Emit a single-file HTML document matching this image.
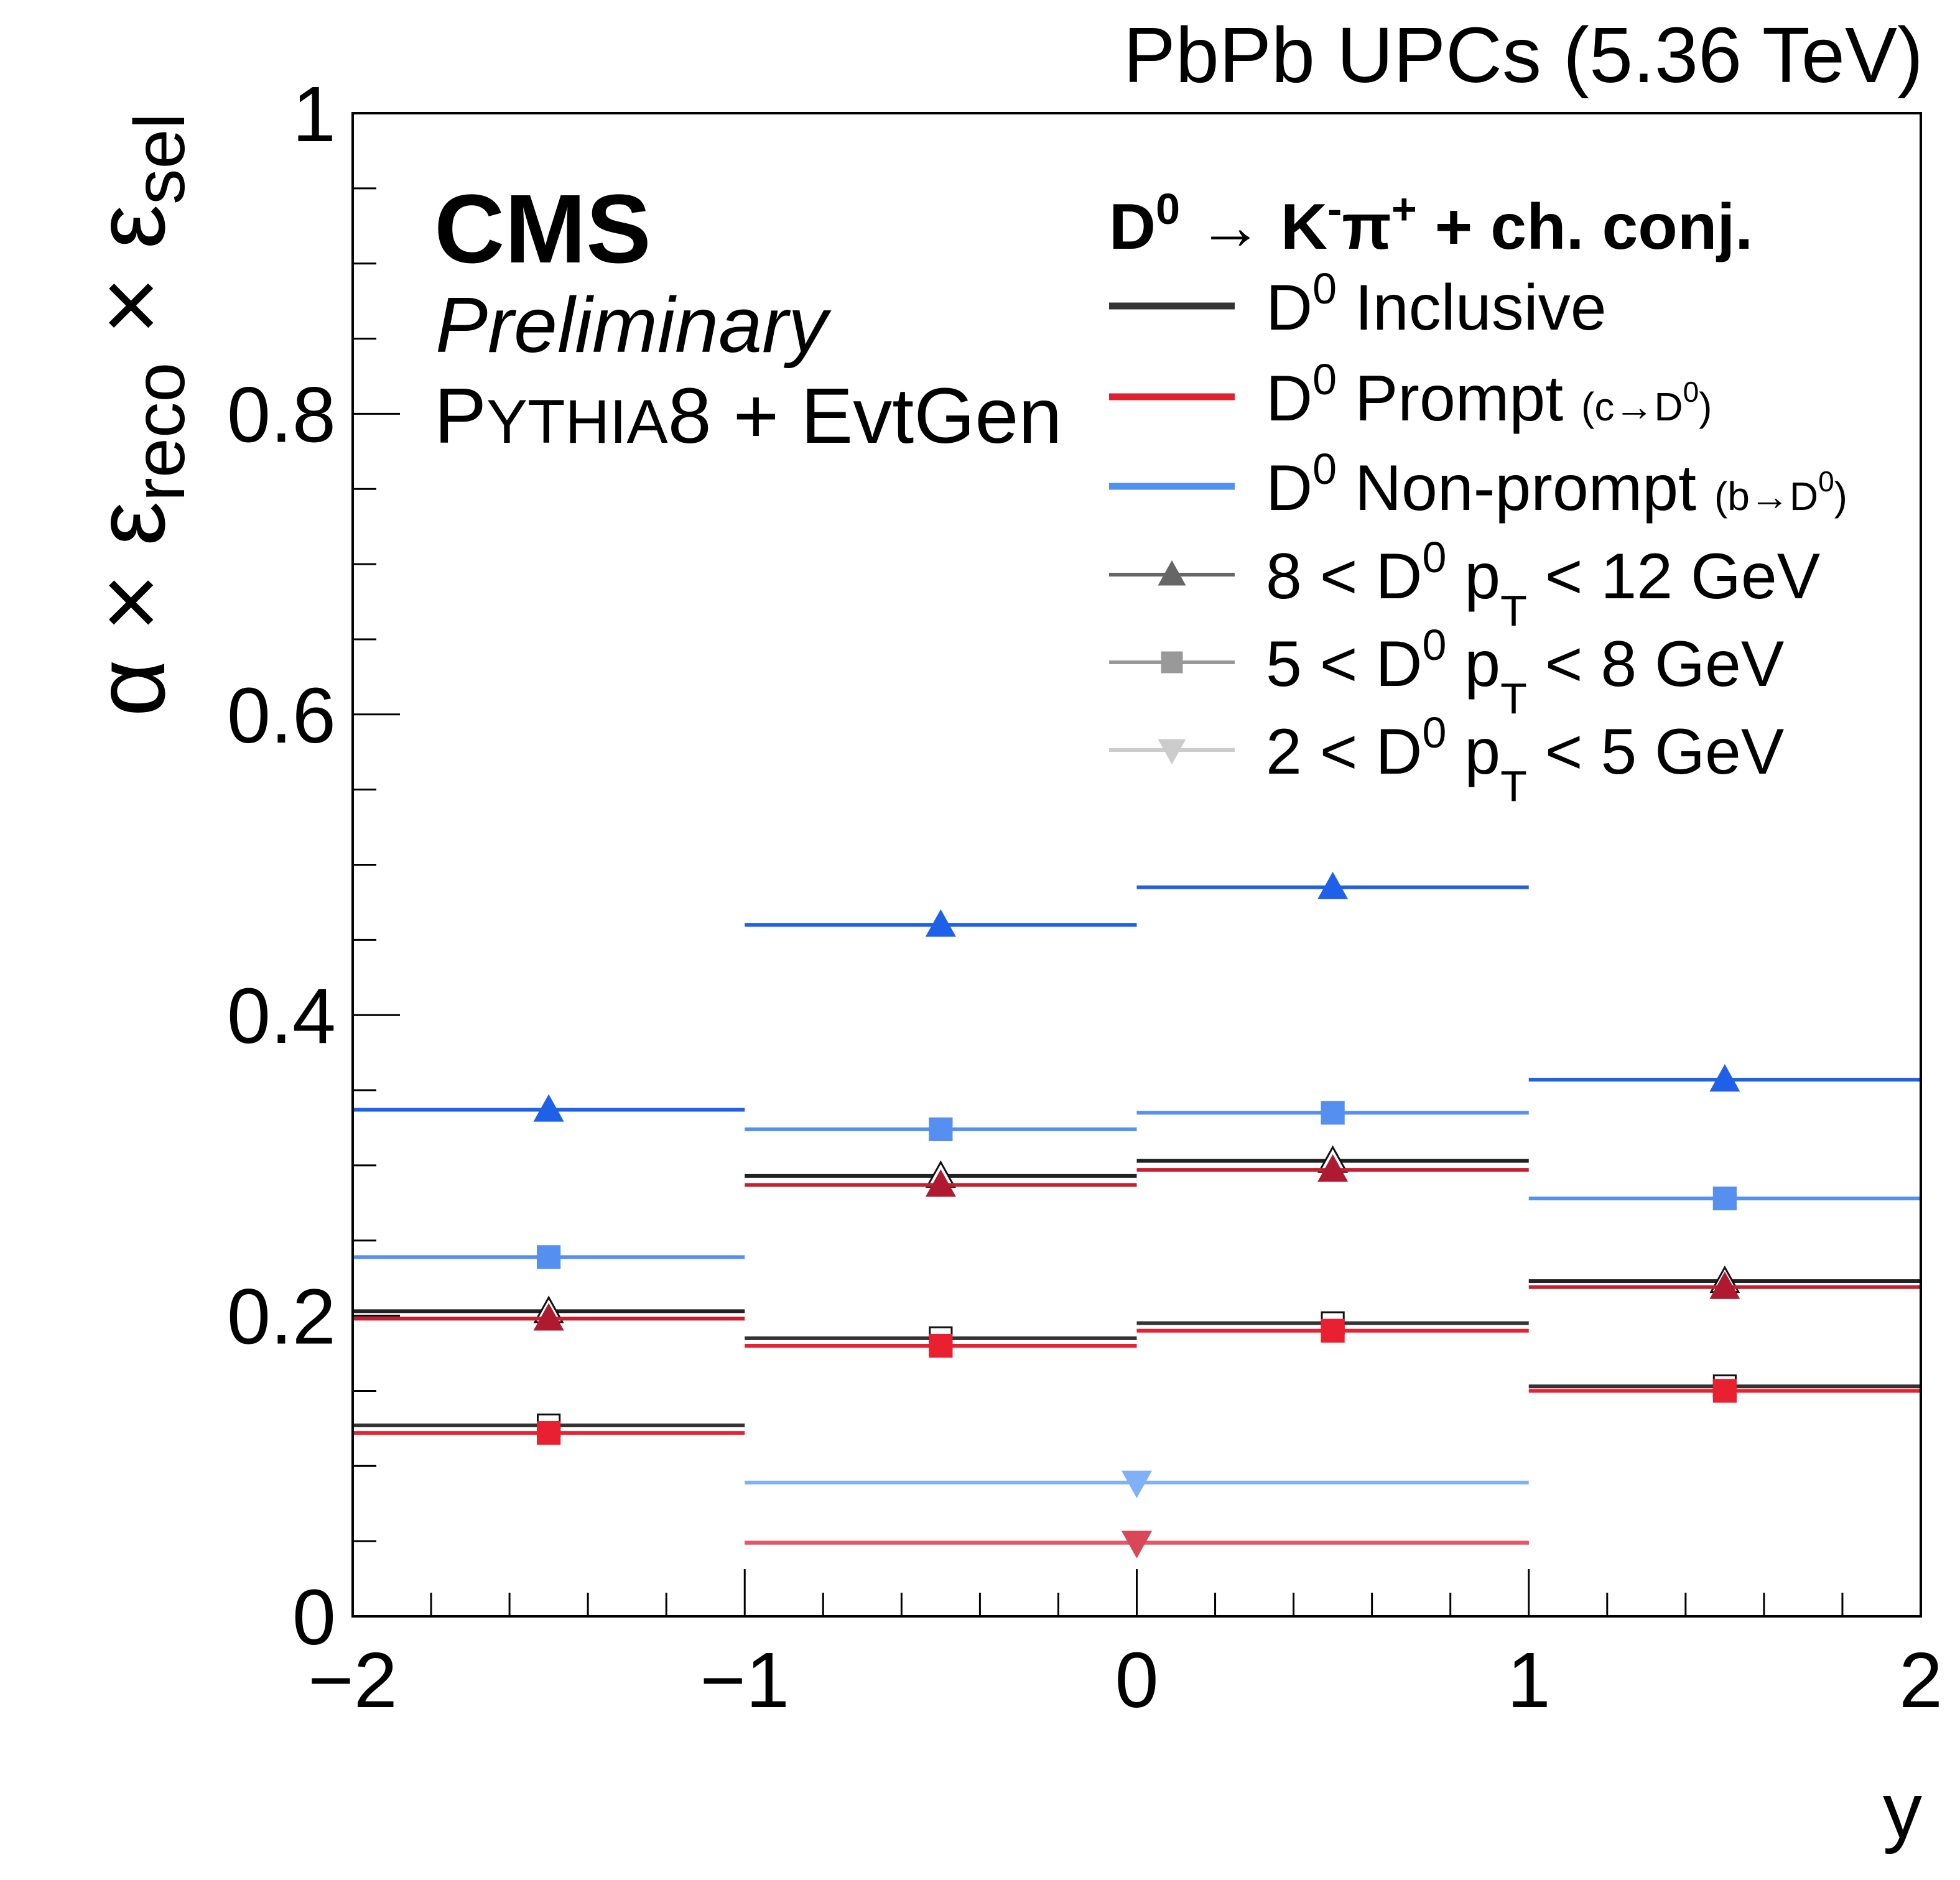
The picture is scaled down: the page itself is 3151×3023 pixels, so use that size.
<!DOCTYPE html>
<html><head><meta charset="utf-8"><style>
html,body{margin:0;padding:0;background:#fff}
svg{display:block;font-family:"Liberation Sans",sans-serif}
</style></head><body>
<svg id="chart" width="3151" height="3023" viewBox="0 0 3151 3023" xmlns="http://www.w3.org/2000/svg">
<rect x="0" y="0" width="3151" height="3023" fill="#fff"/>
<g id="marks"></g>
<g id="axes"></g>
<text x="3092" y="132" font-size="126" text-anchor="end">PbPb UPCs (5.36 TeV)</text>
<text x="698" y="422" font-size="157" font-weight="bold">CMS</text>
<text x="700" y="566" font-size="126" font-style="italic">Preliminary</text>
<text x="698" y="712" font-size="126">P<tspan font-size="99">YTHIA</tspan>8 + EvtGen</text>
<text x="3090" y="2955" font-size="126" text-anchor="end">y</text>
<text transform="translate(264,182) rotate(-90)" font-size="160" text-anchor="end">α × ε<tspan font-size="115" dy="32">reco</tspan><tspan dy="-32"> × ε</tspan><tspan font-size="115" dy="32">sel</tspan></text>
<g id="legend">
<text x="1783" y="400" font-size="104" font-weight="bold">D<tspan font-size="70" dy="-40">0</tspan><tspan dy="40">  → K</tspan><tspan font-size="70" dy="-40">-</tspan><tspan dy="40">π</tspan><tspan font-size="70" dy="-40">+</tspan><tspan dy="40"> + ch. conj.</tspan></text>
</g>
</svg>
<script>
const categories = [-1.5, -0.5, 0.5, 1.5];
const binLow = [-2, -1, 0, 1];
const binHigh = [-1, 0, 1, 2];
const nonpromptHigh = [0.337, 0.460, 0.485, 0.357];
const nonpromptMid = [0.239, 0.324, 0.335, 0.278];
const inclusiveHigh = [0.203, 0.293, 0.303, 0.223];
const promptHigh = [0.198, 0.287, 0.297, 0.219];
const inclusiveMid = [0.127, 0.185, 0.195, 0.153];
const promptMid = [0.122, 0.180, 0.190, 0.150];
const lowBin = [-1, 1];
const nonpromptLow = [0.089];
const inclusiveLow = [0.049];
const promptLow = [0.049];
const yTicks = [0, 0.2, 0.4, 0.6, 0.8, 1];
const yTickLabels = ["0", "0.2", "0.4", "0.6", "0.8", "1"];
const xTicks = [-2, -1, 0, 1, 2];
const xTickLabels = ["−2", "−1", "0", "1", "2"];

const X0 = 567, X1 = 3088, Y0 = 2599, Y1 = 182;
const xs = v => X0 + (v + 2) / 4 * (X1 - X0);
const ys = v => Y0 - v * (Y0 - Y1);
const NS = "http://www.w3.org/2000/svg";
const marks = document.getElementById('marks');
const axes = document.getElementById('axes');
const legend = document.getElementById('legend');
function mk(tag, attrs, parent) {
  const e = document.createElementNS(NS, tag);
  for (const k in attrs) e.setAttribute(k, attrs[k]);
  parent.appendChild(e);
  return e;
}
function marker(type, cx, cy, fill, stroke, parent, sz) {
  const s = sz || 22;
  let e;
  if (type === 'tri') {
    e = mk('polygon', {points: `${cx},${cy - s} ${cx - s},${cy + s * 0.8} ${cx + s},${cy + s * 0.8}`, fill: fill, stroke: stroke, 'stroke-width': 3}, parent);
  } else if (type === 'sq') {
    e = mk('rect', {x: cx - s * 0.8, y: cy - s * 0.8, width: s * 1.6, height: s * 1.6, fill: fill, stroke: stroke, 'stroke-width': 3}, parent);
  } else {
    e = mk('polygon', {points: `${cx},${cy + s} ${cx - s},${cy - s * 0.8} ${cx + s},${cy - s * 0.8}`, fill: fill, stroke: stroke, 'stroke-width': 3}, parent);
  }
  return e;
}
function series(name, vals, lows, highs, centers, color, mtype, mfill, mstroke) {
  const g = mk('g', {}, marks);
  
  
  vals.forEach((v, i) => {
    const l = mk('line', {x1: xs(lows[i]), x2: xs(highs[i]), y1: ys(v), y2: ys(v), stroke: color, 'stroke-width': 6}, g);
    
    
    const m = marker(mtype, xs(centers[i]), ys(v), mfill, mstroke, g);
    
    
  });
}
series('nonprompt-8-12', nonpromptHigh, binLow, binHigh, categories, '#1f60e8', 'tri', '#1f60e8', '#1f60e8');
series('nonprompt-5-8', nonpromptMid, binLow, binHigh, categories, '#5590f0', 'sq', '#5590f0', '#5590f0');
series('nonprompt-2-5', nonpromptLow, [lowBin[0]], [lowBin[1]], [0], '#80b0f5', 'inv', '#80b0f5', '#80b0f5');
series('inclusive-8-12', inclusiveHigh, binLow, binHigh, categories, '#222', 'tri', '#fff', '#111');
series('prompt-8-12', promptHigh, binLow, binHigh, categories, '#c81e2e', 'tri', '#b01a30', '#b01a30');
series('inclusive-5-8', inclusiveMid, binLow, binHigh, categories, '#333', 'sq', '#fff', '#111');
series('prompt-5-8', promptMid, binLow, binHigh, categories, '#e82030', 'sq', '#e82030', '#e82030');
series('inclusive-2-5', inclusiveLow, [lowBin[0]], [lowBin[1]], [0], '#555', 'inv', '#777', '#555');
series('prompt-2-5', promptLow, [lowBin[0]], [lowBin[1]], [0], '#e85565', 'inv', '#d84858', '#d84858');

const fr = mk('rect', {x: X0, y: Y1, width: X1 - X0, height: Y0 - Y1, fill: 'none', stroke: '#000', 'stroke-width': 4}, axes);


for (let i = 0; i <= 20; i++) {
  const v = i * 0.05;
  const len = (i % 4 === 0) ? 76 : 38;
  const t = mk('line', {x1: X0, x2: X0 + len, y1: ys(v), y2: ys(v), stroke: '#000', 'stroke-width': 3}, axes);
  
  
}
for (let i = 0; i <= 20; i++) {
  const v = -2 + i * 0.2;
  const len = (i % 5 === 0) ? 76 : 38;
  const t = mk('line', {x1: xs(v), x2: xs(v), y1: Y0, y2: Y0 - len, stroke: '#000', 'stroke-width': 3}, axes);
  
  
}
yTicks.forEach((v, i) => {
  const t = mk('text', {x: 540, y: ys(v) + 45, 'font-size': 126, 'text-anchor': 'end'}, axes);
  t.textContent = yTickLabels[i];
  
  
});
xTicks.forEach((v, i) => {
  const t = mk('text', {x: xs(v), y: 2745, 'font-size': 126, 'text-anchor': 'middle'}, axes);
  t.textContent = xTickLabels[i];
  
  
});

const entries = [
  {y: 492, color: '#333', w: 11, m: null, html: 'D<tspan font-size="70" dy="-42">0</tspan><tspan dy="42"> Inclusive</tspan>'},
  {y: 638, color: '#e02030', w: 11, m: null, html: 'D<tspan font-size="70" dy="-42">0</tspan><tspan dy="42"> Prompt </tspan><tspan font-size="64">(c→D</tspan><tspan font-size="46" dy="-30">0</tspan><tspan font-size="64" dy="30">)</tspan>'},
  {y: 782, color: '#5090f0', w: 11, m: null, html: 'D<tspan font-size="70" dy="-42">0</tspan><tspan dy="42"> Non-prompt </tspan><tspan font-size="64">(b→D</tspan><tspan font-size="46" dy="-30">0</tspan><tspan font-size="64" dy="30">)</tspan>'},
  {y: 924, color: '#666', w: 6, m: 'tri', html: '8 &lt; D<tspan font-size="70" dy="-42">0</tspan><tspan dy="42"> p</tspan><tspan font-size="70" dy="44">T</tspan><tspan dy="-44"> &lt; 12 GeV</tspan>'},
  {y: 1065, color: '#999', w: 6, m: 'sq', html: '5 &lt; D<tspan font-size="70" dy="-42">0</tspan><tspan dy="42"> p</tspan><tspan font-size="70" dy="44">T</tspan><tspan dy="-44"> &lt; 8 GeV</tspan>'},
  {y: 1206, color: '#ccc', w: 6, m: 'inv', html: '2 &lt; D<tspan font-size="70" dy="-42">0</tspan><tspan dy="42"> p</tspan><tspan font-size="70" dy="44">T</tspan><tspan dy="-44"> &lt; 5 GeV</tspan>'}
];
entries.forEach((e, i) => {
  const l = mk('line', {x1: 1783, x2: 1985, y1: e.y, y2: e.y, stroke: e.color, 'stroke-width': e.w}, legend);
  
  
  if (e.m) {
    const m = marker(e.m, 1884, e.y, e.color, e.color, legend, 20);
    
    
  }
  const t = mk('text', {x: 2035, y: e.y + 38, 'font-size': 104}, legend);
  t.innerHTML = e.html;
  
  
});
</script>
</body></html>
